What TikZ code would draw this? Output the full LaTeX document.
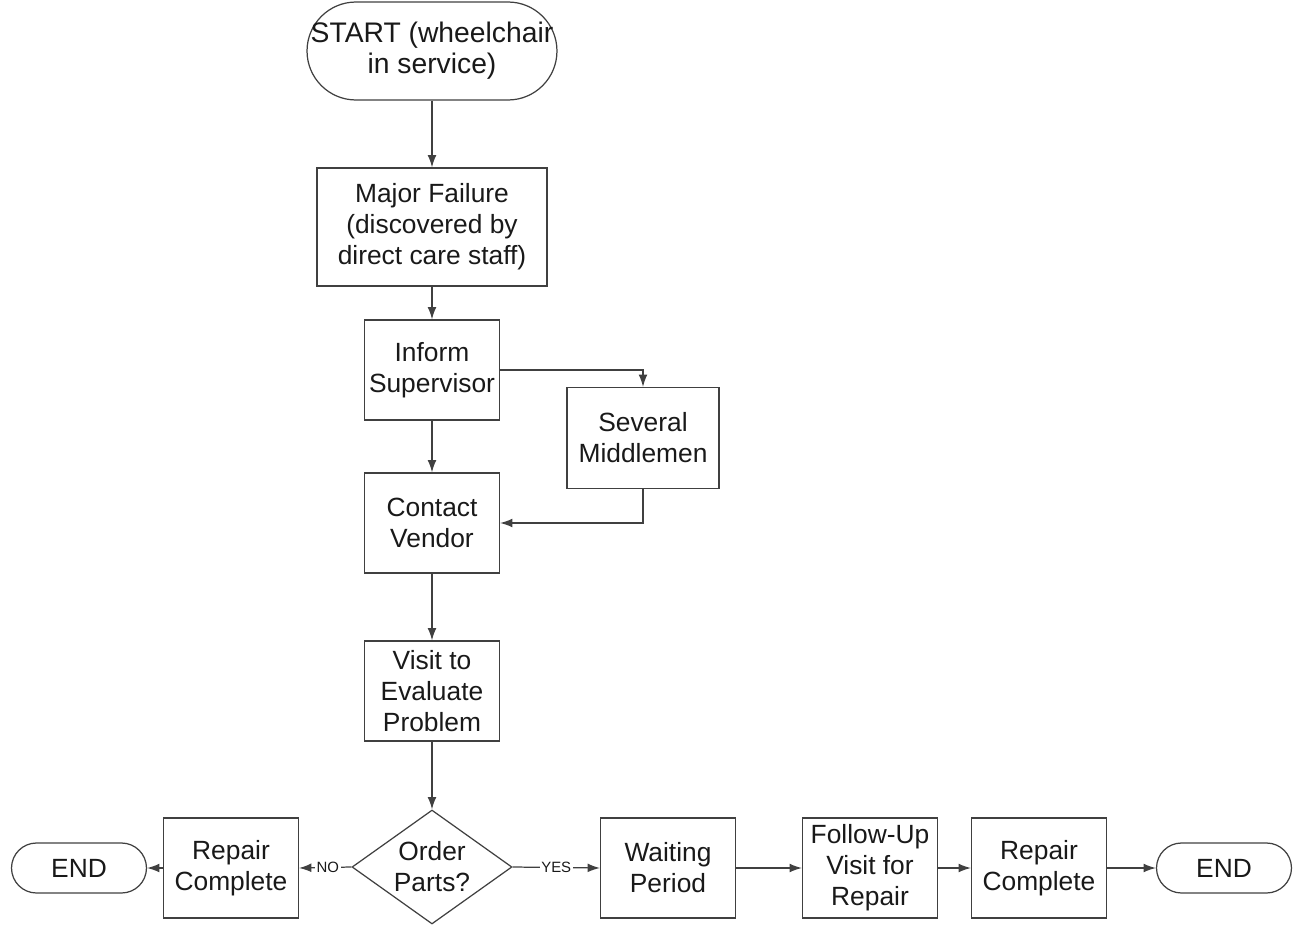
\documentclass[tikz,border=0pt]{standalone}
\usepackage{fontspec}
\setmainfont{Liberation Sans}
\usetikzlibrary{arrows.meta,shapes.geometric}
\definecolor{linegray}{RGB}{64,64,64}
\definecolor{textgray}{RGB}{25,25,25}

\begin{document}
\begin{tikzpicture}[x=0.02cm, y=-0.02cm,
        every node/.style={font=\fontsize{15}{17.6}\selectfont, text=textgray, align=center},
        box/.style={draw=linegray, line width=0.7pt, minimum width=2.7cm, minimum height=2cm, inner sep=0pt},
        term/.style={draw=linegray, line width=0.7pt, rounded corners=0.5cm, minimum width=2.7cm, minimum height=1cm, inner sep=0pt},
        decision/.style={draw=linegray, line width=0.7pt, diamond, aspect=1.4, minimum width=3.2cm, minimum height=2.28cm, inner sep=0pt},
        flow/.style={draw=linegray, line width=0.7pt, -{Latex[length=7pt,width=5pt]}},
        tag/.style={font=\fontsize{8.5}{10}\selectfont, fill=white, inner sep=1pt}]
    \useasboundingbox (0,0) rectangle (1296,926);
    % main column
    \node[term, rounded corners=0.98cm, minimum width=5cm, minimum height=1.96cm, font=\fontsize{16.1}{17.6}\selectfont] (start) at (432,51) {START (wheelchair\\in service)};
    \node[box, minimum width=4.6cm, minimum height=2.36cm] (fail) at (432,227) {Major Failure\\(discovered by\\direct care staff)};
    \node[box] (inform) at (432,370) {Inform\\Supervisor};
    \node[box, minimum width=3.04cm, minimum height=2.02cm] (middle) at (643,438) {Several\\Middlemen};
    \node[box] (contact) at (432,523) {Contact\\Vendor};
    \node[box] (visit) at (432,691) {Visit to\\Evaluate\\Problem};
    \node[decision] (order) at (432,867) {Order\\Parts?};
    % bottom row
    \node[box] (repairL) at (231,868) {Repair\\Complete};
    \node[term] (endL) at (79,868) {END};
    \node[box] (wait) at (668,868) {Waiting\\Period};
    \node[box] (follow) at (870,868) {Follow-Up\\Visit for\\Repair};
    \node[box] (repairR) at (1039,868) {Repair\\Complete};
    \node[term] (endR) at (1224,868) {END};

    \draw[flow] (start) -- (fail);
    \draw[flow] (fail) -- (inform);
    \draw[flow] (inform) -- (contact);
    \draw[flow] (contact) -- (visit);
    \draw[flow] (visit) -- (order);
    \draw[flow] (inform.east) -| (middle.north);
    \draw[flow] (middle.south) |- (contact.east);
    \draw[flow] (order.west) -- node[tag, pos=0.45] {NO} (repairL.east);
    \draw[flow] (repairL) -- (endL);
    \draw[flow] (order.east) -- node[tag] {YES} (wait.west);
    \draw[flow] (wait) -- (follow);
    \draw[flow] (follow) -- (repairR);
    \draw[flow] (repairR) -- (endR);
\end{tikzpicture}
\end{document}
